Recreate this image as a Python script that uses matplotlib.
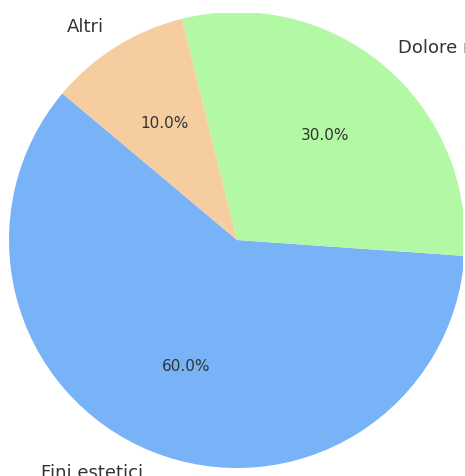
import matplotlib.pyplot as plt

labels = ['Fini estetici', 'Dolore muscolare', 'Altri']
sizes = [60, 30, 10]
colors = ['#78b3f8', '#b3f9a5', '#f5cda0']

fig = plt.figure(figsize=(4.65, 4.76), dpi=100)
ax = fig.add_axes([0, 0, 463 / 465, 463 / 476])

wedges, texts, autotexts = ax.pie(sizes, labels=labels, colors=colors, autopct='%1.1f%%',
                                  startangle=140, textprops={'fontsize': 13, 'color': '#333333'})
for w in wedges:
    w.set_clip_on(True)
for t in autotexts:
    t.set_fontsize(11)

# pie centre at (237, 240) px, radius 228 px
r = 228
ax.set_aspect('auto')
ax.set_xlim(-237 / r, (463 - 237) / r)
ax.set_ylim((240 - 476) / r, (240 - 13) / r)

fig.savefig('out.png', dpi=100)
